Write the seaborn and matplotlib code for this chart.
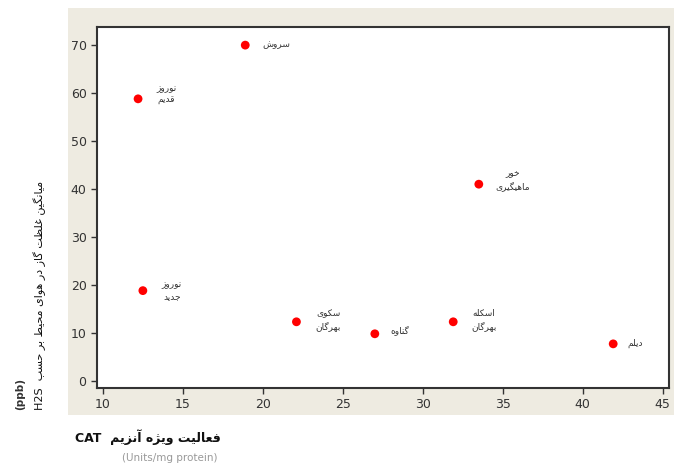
import matplotlib
matplotlib.use('Agg')
import matplotlib.pyplot as plt
import seaborn as sns
import pandas as pd
from matplotlib.patches import Rectangle

# station names (Persian), CAT activity (x) and H2S concentration (y)
stations = ['سروش', 'نوروز\nقدیم', 'نوروز\nجدید', 'سکوی\nبهرگان', 'گناوه',
            'اسکله\nبهرگان', 'خور\nماهیگیری', 'دیلم']
cat_activity = [18.9, 12.2, 12.5, 22.1, 27.0, 31.9, 33.5, 41.9]
h2s_ppb = [70.0, 58.8, 18.8, 12.3, 9.8, 12.3, 41.0, 7.7]

x_ticks = [10, 15, 20, 25, 30, 35, 40, 45]
y_ticks = [0, 10, 20, 30, 40, 50, 60, 70]

x_label_fa = 'فعالیت ویژه آنزیم'
x_label_unit = '(Units/mg protein)'
y_label_fa = 'میانگین غلظت گاز در هوای محیط بر حسب'
y_label_unit = '(ppb)'

# label offsets in pixels (dx, dy) next to each point
offsets = [(17, 1), (18, 4), (19, 0), (19, 2), (16, 4), (18, 2), (17, 4), (14, 0)]

# matplotlib has no arabic shaping -> pick presentation forms by hand
FORMS = {
    'ا': (0xFE8D, 0xFE8E, None, None), 'آ': (0xFE81, 0xFE82, None, None),
    'ب': (0xFE8F, 0xFE90, 0xFE91, 0xFE92), 'پ': (0xFB56, 0xFB57, 0xFB58, 0xFB59),
    'ت': (0xFE95, 0xFE96, 0xFE97, 0xFE98), 'ج': (0xFE9D, 0xFE9E, 0xFE9F, 0xFEA0),
    'ح': (0xFEA1, 0xFEA2, 0xFEA3, 0xFEA4), 'خ': (0xFEA5, 0xFEA6, 0xFEA7, 0xFEA8),
    'د': (0xFEA9, 0xFEAA, None, None), 'ر': (0xFEAD, 0xFEAE, None, None),
    'ز': (0xFEAF, 0xFEB0, None, None), 'ژ': (0xFB8A, 0xFB8B, None, None),
    'س': (0xFEB1, 0xFEB2, 0xFEB3, 0xFEB4), 'ش': (0xFEB5, 0xFEB6, 0xFEB7, 0xFEB8),
    'ط': (0xFEC1, 0xFEC2, 0xFEC3, 0xFEC4), 'ظ': (0xFEC5, 0xFEC6, 0xFEC7, 0xFEC8),
    'ع': (0xFEC9, 0xFECA, 0xFECB, 0xFECC), 'غ': (0xFECD, 0xFECE, 0xFECF, 0xFED0),
    'ف': (0xFED1, 0xFED2, 0xFED3, 0xFED4), 'ق': (0xFED5, 0xFED6, 0xFED7, 0xFED8),
    'ک': (0xFB8E, 0xFB8F, 0xFB90, 0xFB91), 'گ': (0xFB92, 0xFB93, 0xFB94, 0xFB95),
    'ل': (0xFEDD, 0xFEDE, 0xFEDF, 0xFEE0), 'م': (0xFEE1, 0xFEE2, 0xFEE3, 0xFEE4),
    'ن': (0xFEE5, 0xFEE6, 0xFEE7, 0xFEE8), 'و': (0xFEED, 0xFEEE, None, None),
    'ه': (0xFEE9, 0xFEEA, 0xFEEB, 0xFEEC), 'ی': (0xFBFC, 0xFBFD, 0xFBFE, 0xFBFF),
}


def fa_line(s):
    out = []
    for i, ch in enumerate(s):
        if ch not in FORMS:
            out.append(ch)
            continue
        f = FORMS[ch]
        prev = s[i - 1] if i > 0 else ''
        nxt = s[i + 1] if i + 1 < len(s) else ''
        join_prev = prev in FORMS and FORMS[prev][2] is not None
        join_next = nxt in FORMS and f[2] is not None
        if join_prev and join_next:
            code = f[3]
        elif join_prev:
            code = f[1]
        elif join_next:
            code = f[2]
        else:
            code = f[0]
        out.append(chr(code))
    return ''.join(out)[::-1]


def fa(s):
    return '\n'.join(fa_line(line) for line in s.split('\n'))


df = pd.DataFrame({'cat': cat_activity, 'h2s': h2s_ppb, 'name': stations})

sns.set_style('white')
plt.rcParams['font.family'] = ['DejaVu Sans']

fig = plt.figure(figsize=(6.78, 4.68), dpi=100)
bg = Rectangle((0.1003, 0.113), 0.894, 0.870, transform=fig.transFigure,
               facecolor='#EEEBE1', edgecolor='none')
bg.set_zorder(-10)
fig.patches.append(bg)
ax = fig.add_axes([0.143, 0.171, 0.844, 0.771])
ax.set_zorder(1)
ax.set_facecolor('white')

sns.scatterplot(data=df, x='cat', y='h2s', color='#FF0000', s=40,
                edgecolor='none', ax=ax, zorder=3)

for (xv, yv, name), (dx, dy) in zip(zip(cat_activity, h2s_ppb, stations), offsets):
    ax.annotate(fa(name), (xv, yv), xytext=(dx * 0.72, dy * 0.72),
                textcoords='offset points', ha='left', va='center',
                multialignment='center', fontsize=6.5, color='#333333',
                linespacing=1.4)

ax.set_xlim(9.63, 45.4)
ax.set_ylim(-1.5, 73.75)
ax.set_xticks(x_ticks)
ax.set_yticks(y_ticks)
ax.set_xlabel('')
ax.set_ylabel('')
ax.tick_params(direction='out', length=4, width=1, color='#333333',
               labelsize=9, labelcolor='#333333', bottom=True, left=True)
for sp in ax.spines.values():
    sp.set_color('#333333')
    sp.set_linewidth(1.5)

fig.text(75 / 678, 1 - 437 / 468, 'CAT  ' + fa(x_label_fa), fontsize=9,
         fontweight='bold', ha='left', va='center', color='#111111')
fig.text(170 / 678, 1 - 458 / 468, x_label_unit, fontsize=7.5,
         ha='center', va='center', color='#999999')

fig.text(40 / 678, 1 - 410 / 468, 'H2S  ' + fa(y_label_fa), fontsize=8,
         rotation=90, ha='center', va='bottom', color='#111111')
fig.text(20 / 678, 1 - 410 / 468, y_label_unit, fontsize=7.5, fontweight='bold',
         rotation=90, ha='center', va='bottom', color='#333333')

fig.savefig('out.png', dpi=100)
